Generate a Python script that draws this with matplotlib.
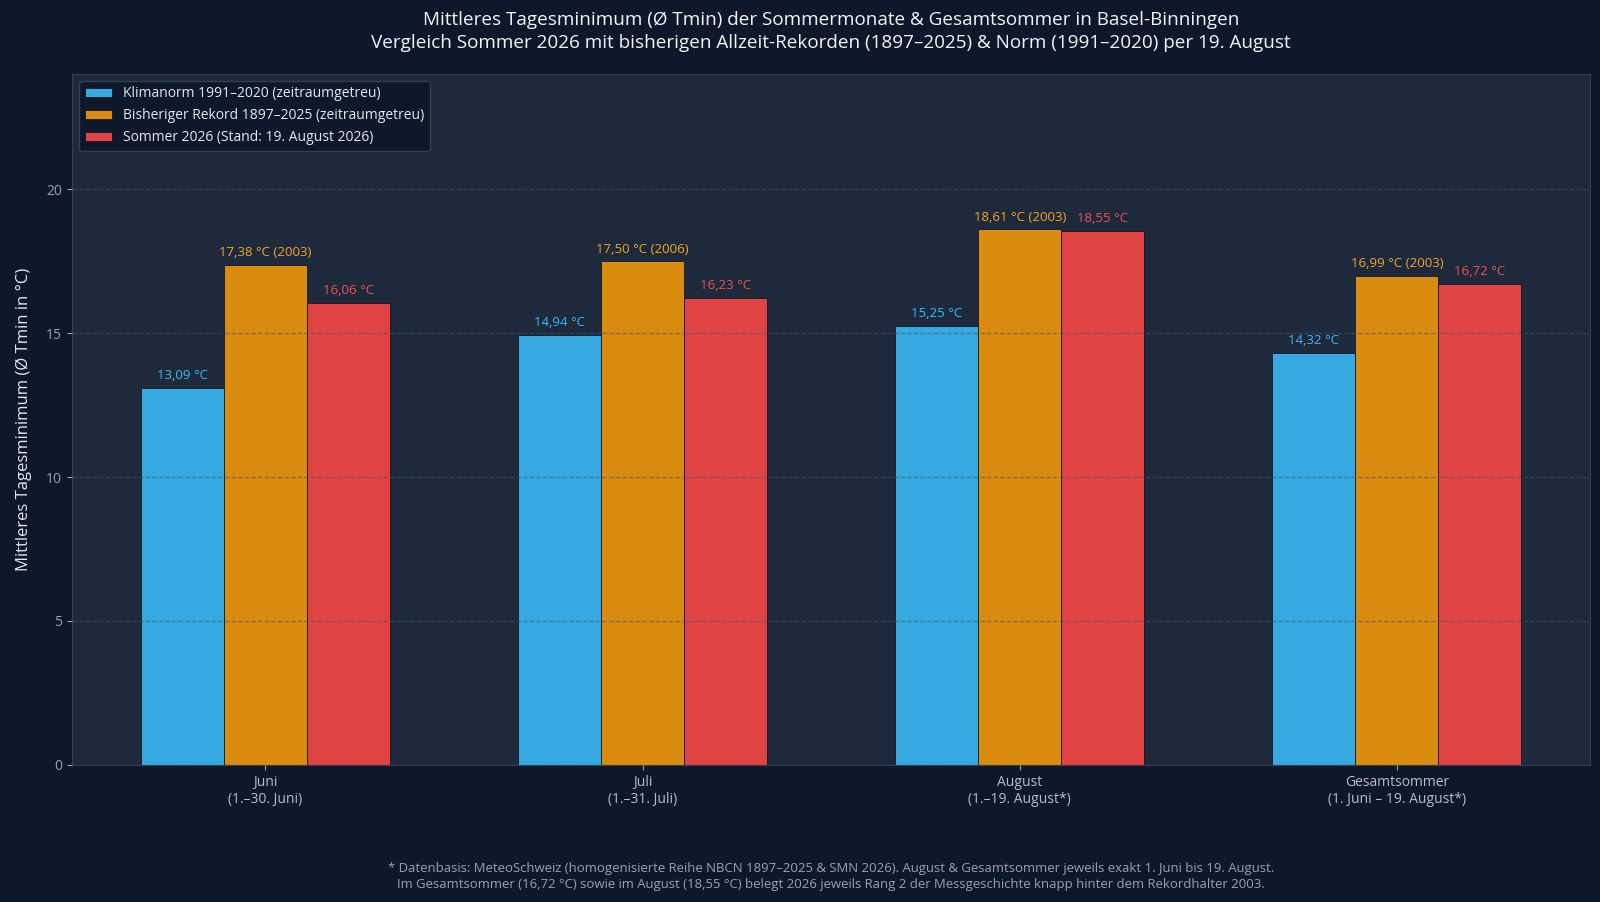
import numpy as np
import matplotlib.pyplot as plt

# Daten
kategorien = ["Juni\n(1.–30. Juni)", "Juli\n(1.–31. Juli)",
              "August\n(1.–19. August*)", "Gesamtsommer\n(1. Juni – 19. August*)"]
norm = [13.09, 14.94, 15.25, 14.32]
rekord = [17.38, 17.50, 18.61, 16.99]
rekord_jahr = ["2003", "2006", "2003", "2003"]
sommer_2026 = [16.06, 16.23, 18.55, 16.72]

serien_namen = ["Klimanorm 1991–2020 (zeitraumgetreu)",
                "Bisheriger Rekord 1897–2025 (zeitraumgetreu)",
                "Sommer 2026 (Stand: 19. August 2026)"]

bg = "#0f172a"
ax_bg = "#1e293b"
farben = ["#36a9e1", "#d98c10", "#e04343"]
text_farben = ["#38bdf8", "#f5a623", "#f05252"]

plt.rcParams['font.family'] = ['Open Sans', 'DejaVu Sans']

fig = plt.figure(figsize=(16, 9.02), dpi=100, facecolor=bg)
ax = fig.add_axes([0.045, 0.152, 0.949, 0.766])
ax.set_facecolor(ax_bg)

x = np.arange(len(kategorien))
breite = 0.22

b1 = ax.bar(x - breite, norm, breite, color=farben[0], edgecolor=bg, linewidth=0.6, label=serien_namen[0])
b2 = ax.bar(x, rekord, breite, color=farben[1], edgecolor=bg, linewidth=0.6, label=serien_namen[1])
b3 = ax.bar(x + breite, sommer_2026, breite, color=farben[2], edgecolor=bg, linewidth=0.6, label=serien_namen[2])

def fmt(v):
    return f"{v:.2f}".replace(".", ",") + " °C"

for rect, v in zip(b1, norm):
    ax.annotate(fmt(v), (rect.get_x() + rect.get_width() / 2, v), xytext=(0, 4),
                textcoords="offset points", ha="center", va="bottom", color=text_farben[0], fontsize=9.5)
for rect, v, j in zip(b2, rekord, rekord_jahr):
    ax.annotate(fmt(v) + f" ({j})", (rect.get_x() + rect.get_width() / 2, v), xytext=(0, 4),
                textcoords="offset points", ha="center", va="bottom", color=text_farben[1], fontsize=9.5)
for rect, v in zip(b3, sommer_2026):
    ax.annotate(fmt(v), (rect.get_x() + rect.get_width() / 2, v), xytext=(0, 4),
                textcoords="offset points", ha="center", va="bottom", color=text_farben[2], fontsize=9.5)

ax.set_ylim(0, 24)
ax.set_yticks([0, 5, 10, 15, 20])
ax.set_xticks(x)
ax.set_xticklabels(kategorien)
ax.tick_params(axis="both", colors="#94a3b8", labelsize=10)
ax.tick_params(axis="x", labelcolor="#b6bec9")
ax.yaxis.grid(True, linestyle="--", color="#475569", alpha=0.6, linewidth=0.9)
ax.set_axisbelow(False)

for s in ax.spines.values():
    s.set_color("#334155")

ax.set_ylabel("Mittleres Tagesminimum (Ø Tmin in °C)", color="#e2e8f0", fontsize=12, labelpad=10)

leg = ax.legend(loc="upper left", fontsize=10, facecolor=bg, edgecolor="#334155",
                labelcolor="#e2e8f0", framealpha=1.0)

mitte = 0.045 + 0.949 / 2
fig.text(mitte, 0.988, "Mittleres Tagesminimum (Ø Tmin) der Sommermonate & Gesamtsommer in Basel-Binningen\n"
         "Vergleich Sommer 2026 mit bisherigen Allzeit-Rekorden (1897–2025) & Norm (1991–2020) per 19. August",
         ha="center", va="top", color="#f1f5f9", fontsize=13.6, linespacing=1.35)

fig.text(mitte, 0.012, "* Datenbasis: MeteoSchweiz (homogenisierte Reihe NBCN 1897–2025 & SMN 2026). "
         "August & Gesamtsommer jeweils exakt 1. Juni bis 19. August.\n"
         "Im Gesamtsommer (16,72 °C) sowie im August (18,55 °C) belegt 2026 jeweils Rang 2 der "
         "Messgeschichte knapp hinter dem Rekordhalter 2003.",
         ha="center", va="bottom", color="#94a3b8", fontsize=9.45, linespacing=1.3)

plt.savefig("out.png", facecolor=bg)
plt.close()
